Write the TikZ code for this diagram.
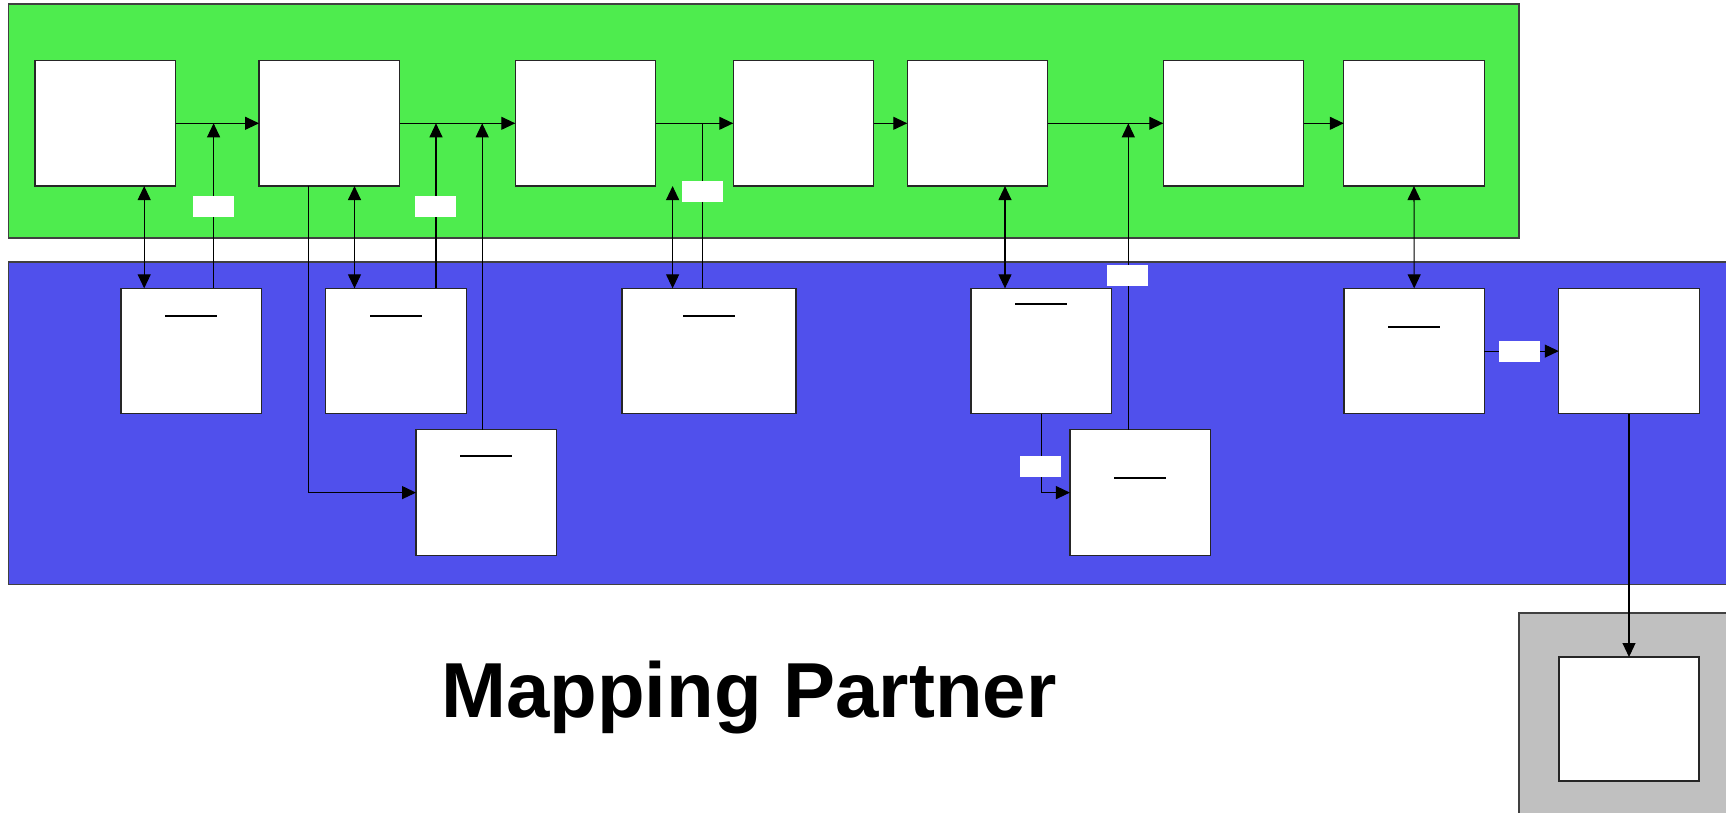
\documentclass[tikz,border=0pt]{standalone}
\usepackage{fontspec}
\setmainfont{Liberation Sans}
\usetikzlibrary{arrows.meta,calc}
\definecolor{bandgreen}{RGB}{78,236,78}
\definecolor{bandblue}{RGB}{80,80,236}
\definecolor{framegrey}{RGB}{192,192,192}
\begin{document}
\begin{tikzpicture}[x=1pt,y=-1pt,
  box/.style={draw=black!85,fill=white,line width=1.2pt,minimum width=140.5pt,minimum height=125.5pt,inner sep=0pt,outer sep=0pt},
  widebox/.style={box,minimum width=174pt},
  tag/.style={fill=white,minimum width=41pt,minimum height=21pt,inner sep=0pt},
  conn/.style={line width=1.1pt,draw=black},
  arr/.style={conn,-{Triangle[length=14pt,width=13pt]}},
  darr/.style={conn,{Triangle[length=14pt,width=13pt]}-{Triangle[length=14pt,width=13pt]}},
  uline/.style={line width=2pt,draw=black},
  band/.style={draw=black!75,line width=1.2pt}]
\useasboundingbox (0,0) rectangle (1726,812);
\clip (0,0) rectangle (1726,812);
\fill[white] (0,0) rectangle (1726,812);
% bands
\path[band,fill=bandgreen] (8.5,4) rectangle (1519,238);
\path[band,fill=bandblue] (8.5,262) rectangle (1740,584.5);
\path[band,fill=framegrey] (1519,613) rectangle (1740,830);
% top row
\node[box] (t1) at (105.3,123.3) {};
\node[box] (t2) at (329.3,123.3) {};
\node[box] (t3) at (585.5,123.3) {};
\node[box] (t4) at (803.5,123.3) {};
\node[box] (t5) at (977.5,123.3) {};
\node[box] (t6) at (1233.5,123.3) {};
\node[box] (t7) at (1414,123.3) {};
% lower row
\node[box] (L1) at (191.3,351.1) {};
\node[box] (L2) at (396,351.1) {};
\node[widebox] (L3) at (709,351.1) {};
\node[box] (L4) at (1041.2,351.1) {};
\node[box] (L5) at (1414.2,351.1) {};
\node[box] (L6) at (1629,351.1) {};
% bottom row
\node[box] (B1) at (486.3,492.6) {};
\node[box] (B2) at (1140.2,492.6) {};
% inner box of grey frame
\node[box,minimum width=140pt,minimum height=124pt] (g1) at (1629,719) {};
% underlines
\draw[uline] ($(L1.north)+(-26,27.6)$) -- ++(52,0);
\draw[uline] ($(L2.north)+(-26,27.6)$) -- ++(52,0);
\draw[uline] ($(L3.north)+(-26,27.6)$) -- ++(52,0);
\draw[uline] ($(L4.north)+(-26,15.4)$) -- ++(52,0);
\draw[uline] ($(L5.north)+(-26,38.6)$) -- ++(52,0);
\draw[uline] ($(B1.north)+(-26,26.4)$) -- ++(52,0);
\draw[uline] ($(B2.north)+(-26,48.4)$) -- ++(52,0);
% junction coordinates
\coordinate (j1) at (213.6,123.3);
\coordinate (j2) at (436,123.3);
\coordinate (j3) at (482.2,123.3);
\coordinate (j4) at (702.3,123.3);
\coordinate (j5) at (1128.3,123.3);
\coordinate (x1) at (144.2,0);
\coordinate (x2) at (354.5,0);
\coordinate (x3) at (672.6,0);
\coordinate (x4) at (1005,0);
\coordinate (x6) at (308.2,0);
% top flow
\draw[arr] (t1.east) -- (t2.west);
\draw[arr] (t2.east) -- (t3.west);
\draw[arr] (t3.east) -- (t4.west);
\draw[arr] (t4.east) -- (t5.west);
\draw[arr] (t5.east) -- (t6.west);
\draw[arr] (t6.east) -- (t7.west);
% verticals
\draw[darr] (t1.south -| x1) -- (L1.north -| x1);
\draw[arr] (L1.north -| j1) -- (j1);
\draw[darr] (t2.south -| x2) -- (L2.north -| x2);
\draw[arr] (L2.north -| j2) -- (j2);
\draw[arr] (B1.north -| j3) -- (j3);
\draw[arr] (t2.south -| x6) |- (B1.west);
\draw[darr] (t3.south -| x3) -- (L3.north -| x3);
\draw[conn] (L3.north -| j4) -- (j4);
\draw[darr] (t5.south -| x4) -- (L4.north -| x4);
\draw[arr] (B2.north -| j5) -- (j5);
\draw[arr] (L4.south) |- (B2.west);
\draw[darr] (t7.south) -- (L5.north);
\draw[arr] (L5.east) -- (L6.west);
\draw[arr] (L6.south) -- (g1.north);
% label tags
\node[tag] (lb1) at (213,206.5) {};
\node[tag] (lb2) at (435.9,206.5) {};
\node[tag] (lb3) at (702.8,191) {};
\node[tag] (lb4) at (1127.8,275.8) {};
\node[tag] (lb5) at (1040.5,466.8) {};
\node[tag] (lb6) at (1519.3,351.8) {};
% title
\node[font=\bfseries\fontsize{78}{90}\selectfont,anchor=base,inner sep=0pt] (title) at (749,717.7) {Mapping Partner};
\end{tikzpicture}
\end{document}
